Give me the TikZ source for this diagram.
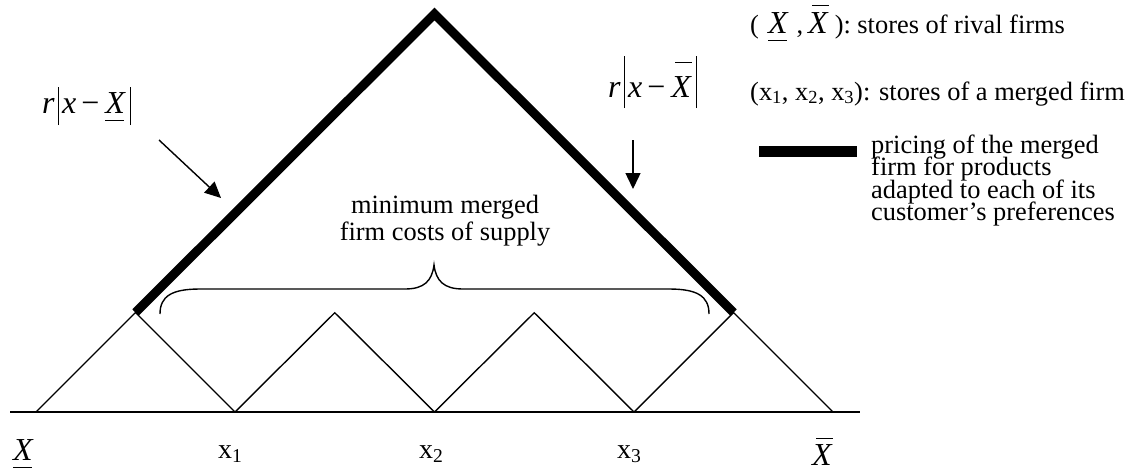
\documentclass[tikz,border=0pt]{standalone}
\usepackage{fontspec}
\setmainfont{Liberation Serif}
\usetikzlibrary{arrows.meta}
\newcommand{\vb}[2]{\rule[-#1]{1.3pt}{#2}}
\newcommand{\uX}{\makebox[0pt][l]{\rule[-8pt]{19pt}{1.3pt}}\textit{X}}
\newcommand{\oX}[1]{\makebox[0pt][l]{\hspace{4pt}\rule[#1]{17pt}{1.3pt}}\textit{X}}
\newcommand{\mf}{\fontsize{32}{32}\selectfont}
\begin{document}
\begin{tikzpicture}[x=1pt,y=-1pt,
  thinline/.style={line width=1.4pt},
  pricing/.style={line width=9pt, line cap=butt, line join=miter},
  arr/.style={line width=1.4pt, -{Triangle[length=16pt,width=15pt]}},
  txt/.style={inner sep=0pt, anchor=base west, font=\fontsize{26.4}{22}\selectfont},
  ctxt/.style={inner sep=0pt, anchor=base, font=\fontsize{26.4}{22}\selectfont},
  mathlbl/.style={inner sep=0pt, anchor=base west, font=\mf},
  axlbl/.style={inner sep=0pt, anchor=base west, font=\fontsize{28}{28}\selectfont}]
\path[use as bounding box] (0,0) rectangle (1131,474);
% axis and points
\coordinate (L0) at (10,412);
\coordinate (R0) at (860,412);
\coordinate (Xl) at (36,412);
\coordinate (x1) at (235,412);
\coordinate (x2) at (434.5,412);
\coordinate (x3) at (634,412);
\coordinate (Xr) at (833,412);
\coordinate (p1) at (135.5,312.5);
\coordinate (p2) at (334.75,312.75);
\coordinate (p3) at (534.25,312.75);
\coordinate (p4) at (733.5,312.5);
\coordinate (top) at (434.5,14);
\draw[thinline] (L0) -- (R0);
\draw[thinline] (Xl) -- (p1) -- (x1) -- (p2) -- (x2) -- (p3) -- (x3) -- (p4) -- (Xr);
\draw[pricing] (p1) -- (top) -- (p4);
% brace
\draw[thinline] (160,314) .. controls (160,296) and (172,289) .. (200,289) -- (405,289)
  .. controls (424,289) and (432,281) .. (434,265)
  .. controls (436,281) and (444,289) .. (463,289) -- (669,289)
  .. controls (697,289) and (709,296) .. (709,314);
\node[ctxt] (min1) at (445,213) {minimum merged};
\node[ctxt] (min2) at (445,240) {firm costs of supply};
% arrows and labels
\coordinate (a1s) at (159,140);
\coordinate (a1e) at (221,198);
\coordinate (a2s) at (633,140);
\coordinate (a2e) at (633,189);
\draw[arr] (a1s) -- (a1e);
\draw[arr] (a2s) -- (a2e);
\node[mathlbl] (lblL) at (42,113) {\textit{r}\hspace{3pt}\vb{12pt}{38pt}\hspace{3pt}\textit{x}\hspace{5pt}−\hspace{6pt}\uX\hspace{4pt}\vb{12pt}{38pt}};
\node[mathlbl] (lblR) at (608,97) {\textit{r}\hspace{3pt}\vb{11pt}{52pt}\hspace{3pt}\textit{x}\hspace{5pt}−\hspace{6pt}\oX{34pt}\hspace{4pt}\vb{11pt}{52pt}};
% axis labels
\node[mathlbl] (lXl) at (13,460) {\uX};
\node[axlbl] (lx1) at (218,458) {x\textsubscript{1}};
\node[axlbl] (lx2) at (419,458) {x\textsubscript{2}};
\node[axlbl] (lx3) at (617,458) {x\textsubscript{3}};
\node[mathlbl] (lXr) at (812,465) {\oX{26pt}};
% legend
\node[txt] (leg1) at (750,33) {(\hspace{9pt}{\mf\uX}\hspace{8pt},\hspace{5pt}{\mf\oX{27pt}}\hspace{6pt}): stores of rival firms};
\node[txt] (leg2) at (750,100) {(x\textsubscript{1}, x\textsubscript{2}, x\textsubscript{3}): stores of a merged firm};
\coordinate (lb1) at (759,151);
\coordinate (lb2) at (857,151);
\draw[line width=11pt] (lb1) -- (lb2);
\node[txt] (leg3) at (871,153) {pricing of the merged};
\node[txt] (leg4) at (871,175.5) {firm for products};
\node[txt] (leg5) at (871,198) {adapted to each of its};
\node[txt] (leg6) at (871,220.5) {customer’s preferences};
\end{tikzpicture}
\end{document}
